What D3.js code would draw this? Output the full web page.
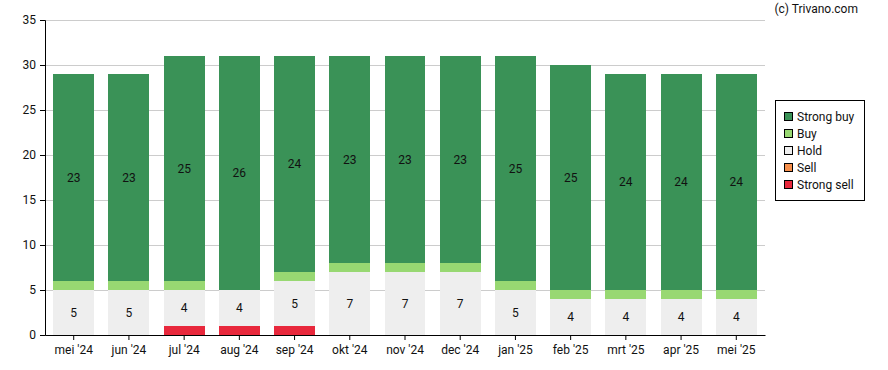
<!DOCTYPE html>
<html><head><meta charset="utf-8">
<script src="https://cdnjs.cloudflare.com/ajax/libs/d3/7.8.5/d3.min.js"></script>
<style>body{margin:0;background:#fff}svg{font-family:Roboto,"Liberation Sans",sans-serif}</style>
</head><body><svg id="c" width="888" height="370"></svg>
<script>
const months = ["mei '24","jun '24","jul '24","aug '24","sep '24","okt '24","nov '24","dec '24","jan '25","feb '25","mrt '25","apr '25","mei '25"];
const strongSell = [0,0,1,1,1,0,0,0,0,0,0,0,0];
const sell       = [0,0,0,0,0,0,0,0,0,0,0,0,0];
const hold       = [5,5,4,4,5,7,7,7,5,4,4,4,4];
const buy        = [1,1,1,0,1,1,1,1,1,1,1,1,1];
const strongBuy  = [23,23,25,26,24,23,23,23,25,25,24,24,24];
const yTicks = [0,5,10,15,20,25,30,35];
const seriesNames = ["Strong sell","Sell","Hold","Buy","Strong buy"];
const seriesColors = ["#e8283c","#f68f4b","#eeeeee","#98d872","#3a9257"];

const svg = d3.select("#c");
const x = d3.scaleBand().domain(months).range([45,765]).paddingInner(0.26).paddingOuter(0.15);
const y = d3.scaleLinear().domain([0,35]).range([335,20]);

const table = months.map((m,i)=>({m, "Strong sell":strongSell[i], "Sell":sell[i], "Hold":hold[i], "Buy":buy[i], "Strong buy":strongBuy[i]}));
const stack = d3.stack().keys(seriesNames)(table);

// grid
svg.append("g").selectAll("line").data(yTicks.filter(d=>d>0)).join("line")
  .attr("x1",45).attr("x2",765).attr("y1",d=>y(d)).attr("y2",d=>y(d))
  .attr("stroke","#cccccc").attr("stroke-width",1).attr("shape-rendering","crispEdges");

// bars
stack.forEach((s,si)=>{
  svg.append("g").selectAll("rect").data(s).join("rect")
    .attr("x",d=>x(d.data.m)).attr("width",x.bandwidth())
    .attr("y",d=>y(d[1])).attr("height",d=>y(d[0])-y(d[1]))
    .attr("fill",seriesColors[si]).attr("shape-rendering","crispEdges");
  svg.append("g").selectAll("text").data(s.filter(d=>d[1]-d[0]>=2)).join("text")
    .attr("x",d=>x(d.data.m)+x.bandwidth()/2).attr("y",d=>(y(d[0])+y(d[1]))/2+4)
    .attr("text-anchor","middle").attr("font-size",12).attr("fill","#111")
    .text(d=>d[1]-d[0]);
});

// axes
const ya = svg.append("g").attr("transform","translate(45,0)")
  .call(d3.axisLeft(y).tickValues(yTicks).tickSize(5).tickPadding(4));
ya.select(".domain").attr("stroke","#000");
ya.selectAll("text").attr("font-size",12).attr("fill","#111").attr("font-family","Roboto,sans-serif");
const xa = svg.append("g").attr("transform","translate(0,335)")
  .call(d3.axisBottom(x).tickSize(5).tickSizeOuter(0).tickPadding(5));
xa.select(".domain").attr("stroke","#000").attr("d","M45.5,0.5H765.5");
xa.selectAll("text").attr("font-size",12).attr("fill","#111").attr("font-family","Roboto,sans-serif");

// credit
svg.append("text").attr("x",858).attr("y",13).attr("text-anchor","end")
  .attr("font-size",12).attr("fill","#111").text("(c) Trivano.com");

// legend
const lg = svg.append("g");
lg.append("rect").attr("x",775.5).attr("y",100.5).attr("width",89).attr("height",100)
  .attr("fill","#fff").attr("stroke","#000");
const legendOrder = [4,3,2,1,0];
legendOrder.forEach((si,k)=>{
  const yy = 117 + k*17;
  lg.append("rect").attr("x",784.5).attr("y",yy-4.5).attr("width",8).attr("height",8)
    .attr("fill",seriesColors[si]).attr("stroke","#000");
  lg.append("text").attr("x",797).attr("y",yy+4).attr("font-size",12).attr("fill","#111").text(seriesNames[si]);
});
</script></body></html>
